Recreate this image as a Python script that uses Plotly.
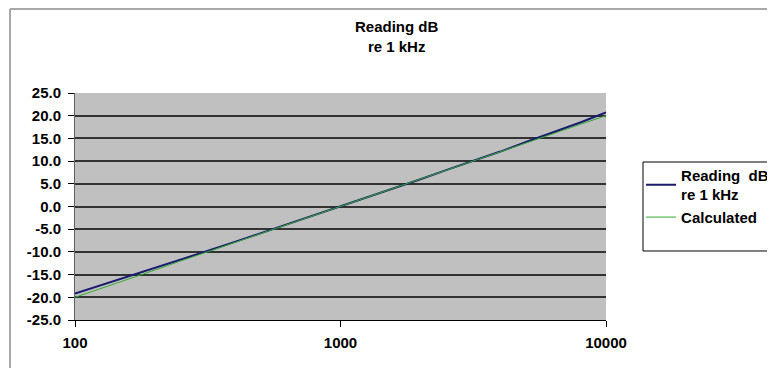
import plotly.graph_objects as go

freq = [100, 125, 160, 200, 250, 315, 400, 500, 630, 800, 1000,
        1250, 1600, 2000, 2500, 3150, 4000, 5000, 6300, 8000, 10000]
reading_db = [-19.2, -17.4, -15.4, -13.6, -11.7, -9.8, -7.8, -5.9, -4.0, -1.9, 0.0,
              1.9, 4.0, 6.0, 8.0, 10.0, 12.1, 14.2, 16.3, 18.5, 20.7]
calculated_db = [-20.0, -18.1, -15.9, -14.0, -12.0, -10.0, -8.0, -6.0, -4.0, -1.9, 0.0,
                 1.9, 4.1, 6.0, 8.0, 10.0, 12.0, 14.0, 16.0, 18.1, 20.0]
y_ticks = [-25, -20, -15, -10, -5, 0, 5, 10, 15, 20, 25]
x_ticks = [100, 1000, 10000]

fnt = "Arial, Liberation Sans"

fig = go.Figure()
fig.add_trace(go.Scatter(x=freq, y=reading_db, mode="lines",
                         name="<b>Reading  dB<br>re 1 kHz</b>",
                         line=dict(color="#1a1a6e", width=2)))
fig.add_trace(go.Scatter(x=freq, y=calculated_db, mode="lines",
                         name="<b>Calculated</b>",
                         line=dict(color="#33aa33", width=1)))

# page body adds 8px, so figure is drawn a little smaller
fig.update_layout(
    width=767, height=360,
    margin=dict(l=67, r=169, t=85, b=48, autoexpand=False),
    paper_bgcolor="white",
    plot_bgcolor="#c0c0c0",
    font=dict(family=fnt, size=15, color="black"),
    legend=dict(x=1.066, y=0.71, xanchor="left", yanchor="top",
                borderwidth=0, bgcolor="rgba(0,0,0,0)",
                font=dict(size=15), tracegroupgap=0, itemwidth=30),
    showlegend=True,
)
fig.add_annotation(text="<b>Reading dB<br>re 1 kHz</b>", xref="paper", yref="paper",
                   x=0.606, y=1.25, xanchor="center", yanchor="middle",
                   showarrow=False, font=dict(size=15))
fig.update_xaxes(
    type="log", range=[2, 4], tickvals=x_ticks, ticktext=[f"<b>{v}</b>" for v in x_ticks],
    showgrid=False, showline=True, linecolor="black", linewidth=1,
    ticks="outside", ticklen=6, tickcolor="black", ticklabelstandoff=3,
)
fig.update_yaxes(
    range=[-25, 25], tickvals=y_ticks, ticktext=[f"<b>{v:.1f}</b>" for v in y_ticks],
    showgrid=True, gridcolor="#333333", gridwidth=1.5, zeroline=False,
    showline=True, linecolor="#606060", linewidth=1,
    ticks="outside", ticklen=6, tickcolor="black", ticklabelstandoff=4,
)

# outer chart frame (top and left edges visible)
fig.add_shape(type="line", xref="paper", yref="paper",
              x0=-0.1224, x1=1.35, y0=1.37, y1=1.37,
              line=dict(color="#a8a8a8", width=2))
fig.add_shape(type="line", xref="paper", yref="paper",
              x0=-0.1224, x1=-0.1224, y0=1.37, y1=-0.25,
              line=dict(color="#a8a8a8", width=2))
# legend box
fig.add_shape(type="rect", xref="paper", yref="paper",
              x0=1.0697, x1=1.35, y0=0.304, y1=0.696,
              line=dict(color="black", width=1), fillcolor="rgba(0,0,0,0)")

fig.write_html("out.html")
